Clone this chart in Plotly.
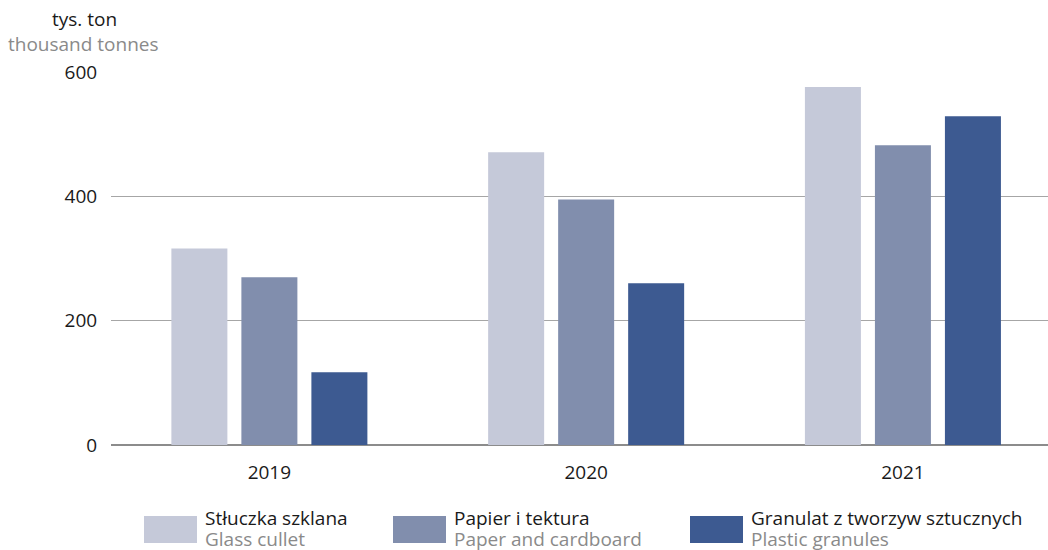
import plotly.graph_objects as go

years = ["2019", "2020", "2021"]
series_pl = ["Stłuczka szklana", "Papier i tektura", "Granulat z tworzyw sztucznych"]
series_en = ["Glass cullet", "Paper and cardboard", "Plastic granules"]
glass = [316, 471, 576]
paper = [270, 395, 482]
plastic = [117, 260, 529]
values = [glass, paper, plastic]
colors = ["#c5c9d9", "#818ead", "#3d5a91"]

W, H = 1048, 550
L, R, T, B = 111, 0, 72, 105
FONT = "Open Sans"
FS = 19


def px(x):
    return (x - L) / (W - L - R)


def py(y):
    return (H - B - y) / (H - T - B)


fig = go.Figure()
for name, vals, col in zip(series_pl, values, colors):
    fig.add_trace(go.Bar(
        x=years, y=vals, name=name,
        marker=dict(color=col, line=dict(width=0)),
        showlegend=False, hoverinfo="x+y",
    ))

# hand-made legend: big swatch + two-line label (PL / EN)
swatch_x = [144, 393, 690]
for i, (pl, en, col) in enumerate(zip(series_pl, series_en, colors)):
    x0 = swatch_x[i]
    fig.add_shape(type="rect", xref="paper", yref="paper",
                  x0=px(x0), x1=px(x0 + 53), y0=py(543), y1=py(516),
                  fillcolor=col, line=dict(width=0))
    fig.add_annotation(xref="paper", yref="paper", x=px(x0 + 59), y=py(518),
                       text=pl, showarrow=False, xanchor="left", yanchor="middle",
                       font=dict(family=FONT, size=FS, color="#1a1a1a"))
    fig.add_annotation(xref="paper", yref="paper", x=px(x0 + 59), y=py(539),
                       text=en, showarrow=False, xanchor="left", yanchor="middle",
                       font=dict(family=FONT, size=FS, color="#8a8a8a"))

# unit labels
fig.add_annotation(xref="paper", yref="paper", x=px(84), y=py(19),
                   text="tys. ton", showarrow=False, xanchor="center", yanchor="middle",
                   font=dict(family=FONT, size=FS, color="#1a1a1a"))
fig.add_annotation(xref="paper", yref="paper", x=px(83), y=py(44),
                   text="thousand tonnes", showarrow=False, xanchor="center", yanchor="middle",
                   font=dict(family=FONT, size=FS, color="#8a8a8a"))

fig.update_layout(
    width=W, height=H,
    margin=dict(l=L, r=R, t=T, b=B, pad=0),
    paper_bgcolor="white", plot_bgcolor="white",
    font=dict(family=FONT, size=FS, color="#1a1a1a"),
    barmode="group", bargap=0.337, bargroupgap=0.2,
    xaxis=dict(
        range=[-0.5, 2.458], showgrid=False, showline=False,
        ticks="outside", ticklen=10, tickcolor="rgba(0,0,0,0)",
        tickfont=dict(family=FONT, size=FS, color="#1a1a1a"),
    ),
    yaxis=dict(
        range=[0, 600], tickvals=[0, 200, 400, 600],
        showgrid=True, gridcolor="#a6a6a6", gridwidth=1,
        zeroline=True, zerolinecolor="#8c8c8c", zerolinewidth=1.5,
        showline=False, ticks="outside", ticklen=9, tickcolor="rgba(0,0,0,0)",
        tickfont=dict(family=FONT, size=FS, color="#1a1a1a"),
    ),
)

fig.write_html(
    "out.html",
    config={"displayModeBar": False},
    post_script="document.body.style.margin='0';",
)
